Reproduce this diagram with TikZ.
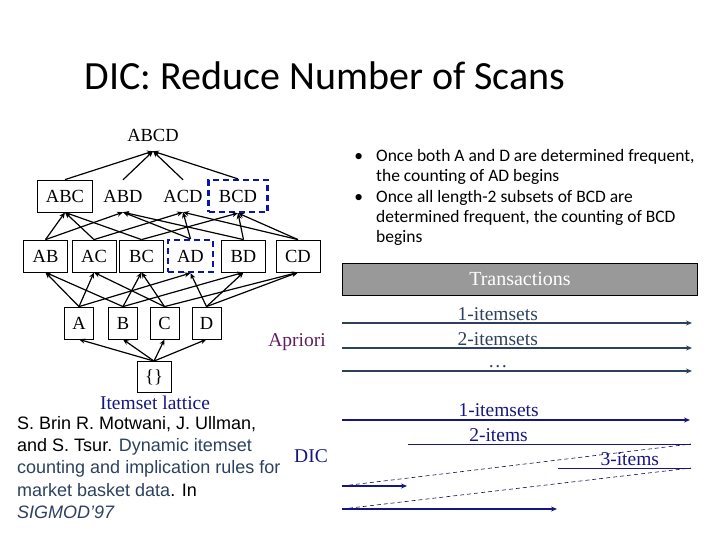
\documentclass[tikz,border=0pt]{standalone}
\usepackage{fontspec}
\setmainfont{Liberation Serif}
\newfontfamily\slidefont{Carlito}
\newfontfamily\citefont{Liberation Sans}
\usepackage{xcolor}
\usepackage{tikz}
\usetikzlibrary{arrows.meta, positioning}

\definecolor{dashblue}{RGB}{10,20,170}
\definecolor{navy}{RGB}{22,22,130}
\definecolor{slate}{RGB}{45,65,95}
\definecolor{plum}{RGB}{95,30,95}
\definecolor{bargray}{RGB}{153,153,153}

\begin{document}
\begin{tikzpicture}[x=1pt, y=-1pt, >={Stealth[length=6pt, width=5pt]},
  set/.style={font=\fontsize{18.5}{18.5}\selectfont, inner sep=0pt, minimum height=32pt},
  box/.style={set, draw, thick, minimum width=44pt},
  single/.style={box, minimum width=29pt},
  cand/.style={set, draw=dashblue, line width=2.2pt, dash pattern=on 6pt off 4pt, minimum width=45pt},
  edge/.style={->, line width=1.2pt},
  scan/.style={->, line width=1.6pt, slate},
  dicscan/.style={->, line width=1.8pt, navy},
  part/.style={line width=0.8pt, navy},
  handover/.style={line width=0.6pt, navy!60!black, dash pattern=on 4pt off 3pt},
  label/.style={font=\fontsize{19.5}{19.5}\selectfont, inner sep=2pt}]
\useasboundingbox (0,0) rectangle (720,540);

\node [font=\slidefont\fontsize{40}{40}\selectfont] (title) at (325,76) {DIC: Reduce Number of Scans};

% itemset lattice
\node [set] (abcd) at (153,135) {ABCD};
\node [box, minimum width=55pt] (abc) at (65,196) {ABC};
\node [set] (abd) at (123,196) {ABD};
\node [set] (acd) at (183,196) {ACD};
\node [cand, minimum width=59pt] (bcd) at (238,196) {BCD};

\node [box] (ab) at (45.5,256) {AB};
\node [box] (ac) at (94,256) {AC};
\node [box] (bc) at (141.5,256) {BC};
\node [cand] (ad) at (190.5,256) {AD};
\node [box] (bd) at (243.5,256) {BD};
\node [box] (cd) at (298,256) {CD};

\node [single] (a) at (79,323) {A};
\node [single] (b) at (123,323) {B};
\node [single] (c) at (164.5,323) {C};
\node [single] (d) at (206.5,323) {D};

\node [box, minimum width=34pt, minimum height=31pt] (empty) at (154,377) {\{\}};

\foreach \s in {abc, abd, acd, bcd}
  \draw [edge] (\s.north) -- (abcd.south);
\foreach \s/\t in {ab/abc, ac/abc, bc/abc, ab/abd, ad/abd, bd/abd,
                   ac/acd, ad/acd, cd/acd, bc/bcd, bd/bcd, cd/bcd}
  \draw [edge] (\s.north) -- (\t.south);
\foreach \s/\t in {a/ab, a/ac, a/ad, b/ab, b/bc, b/bd,
                   c/ac, c/bc, c/cd, d/ad, d/bd, d/cd}
  \draw [edge] (\s.north) -- (\t.south);
\foreach \t in {a, b, c, d}
  \draw [edge] (empty.north) -- (\t.south);

\node [navy, font=\fontsize{19.5}{19.5}\selectfont, inner sep=0pt] (lattice) at (155,403) {Itemset lattice};

\node [anchor=north west, inner sep=0pt, align=left,
       font=\citefont\fontsize{18}{22.3}\selectfont] (cite) at (17,416)
  {S. Brin R. Motwani, J. Ullman,\\
   and S. Tsur. \textcolor{slate}{Dynamic itemset}\\
   \textcolor{slate}{counting and implication rules for}\\
   \textcolor{slate}{market basket data}. In\\
   \textcolor{slate}{\itshape SIGMOD’97}};

% notes on the right
\node [anchor=north west, inner sep=0pt, align=left,
       font=\slidefont\fontsize{17.5}{20}\selectfont] (note1) at (376,149)
  {\llap{\textbullet\hspace{13pt}}Once both A and D are determined frequent,\\
   the counting of AD begins};
\node [inner sep=0pt, align=left, font=\slidefont\fontsize{17.5}{20}\selectfont,
       below=6pt of note1.south west, anchor=north west] (note2)
  {\llap{\textbullet\hspace{13pt}}Once all length-2 subsets of BCD are\\
   determined frequent, the counting of BCD\\
   begins};

\node [draw, thick, fill=bargray, text=white, minimum width=355pt, minimum height=32pt,
       inner sep=0pt, font=\fontsize{20}{20}\selectfont] (trans) at (520,279) {Transactions};

% Apriori scans
\node [label, plum] (apriori) at (297,342) {Apriori};
\coordinate (p1s) at (342,323); \coordinate (p1e) at (692,323);
\coordinate (p2s) at (342,348); \coordinate (p2e) at (692,348);
\coordinate (p3s) at (342,371); \coordinate (p3e) at (692,371);
\draw [scan] (p1s) -- node [label, above, pos=0.445, slate] {1-itemsets} (p1e);
\draw [scan] (p2s) -- node [label, above, pos=0.445, slate] {2-itemsets} (p2e);
\draw [scan] (p3s) -- node [label, above, pos=0.445, slate] {\dots} (p3e);

% DIC scans
\node [label, navy] (dic) at (311,456) {DIC};
\coordinate (d1s) at (342,420); \coordinate (d1e) at (690,420);
\coordinate (d2s) at (408,444); \coordinate (d2e) at (691,444);
\coordinate (d3s) at (558,468); \coordinate (d3e) at (691,468);
\coordinate (d4s) at (342,486); \coordinate (d4e) at (407,486);
\coordinate (d5s) at (342,509); \coordinate (d5e) at (557,509);
\draw [dicscan] (d1s) -- node [label, above, pos=0.45, navy] {1-itemsets} (d1e);
\draw [part] (d2s) -- node [label, above, pos=0.32, navy] {2-items} (d2e);
\draw [handover] (d4s) -- (d2e);
\draw [handover] (d5s) -- (d3e);
\draw [part] (d3s) -- node [label, above, pos=0.54, navy] {3-items} (d3e);
\draw [dicscan] (d4s) -- (d4e);
\draw [dicscan] (d5s) -- (d5e);
\end{tikzpicture}
\end{document}
